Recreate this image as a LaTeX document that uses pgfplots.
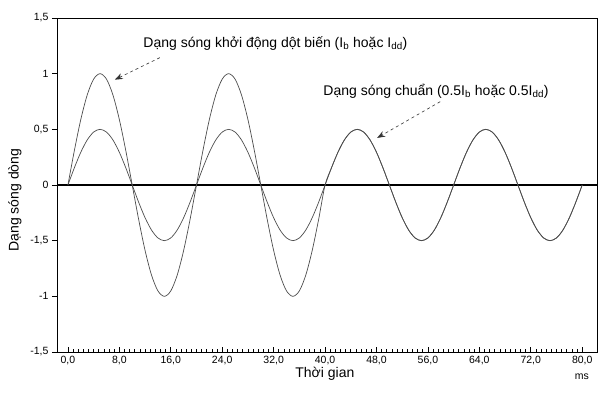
\documentclass[border=0pt]{standalone}
\usepackage{fontspec}
\setmainfont{Liberation Sans}
\usepackage{pgfplots}
\pgfplotsset{compat=1.18}
\usepackage{pgfplotstable}
\usetikzlibrary{arrows.meta}
\pgfplotstableread{
t s k
0 0 0
1 0.1545 0.3090
2 0.2939 0.5878
3 0.4045 0.8090
4 0.4755 0.9511
5 0.5 1
6 0.4755 0.9511
7 0.4045 0.8090
8 0.2939 0.5878
9 0.1545 0.3090
10 0 0
11 -0.1545 -0.3090
12 -0.2939 -0.5878
13 -0.4045 -0.8090
14 -0.4755 -0.9511
15 -0.5 -1
16 -0.4755 -0.9511
17 -0.4045 -0.8090
18 -0.2939 -0.5878
19 -0.1545 -0.3090
20 0 0
21 0.1545 0.3090
22 0.2939 0.5878
23 0.4045 0.8090
24 0.4755 0.9511
25 0.5 1
26 0.4755 0.9511
27 0.4045 0.8090
28 0.2939 0.5878
29 0.1545 0.3090
30 0 0
31 -0.1545 -0.3090
32 -0.2939 -0.5878
33 -0.4045 -0.8090
34 -0.4755 -0.9511
35 -0.5 -1
36 -0.4755 -0.9511
37 -0.4045 -0.8090
38 -0.2939 -0.5878
39 -0.1545 -0.3090
40 0 0
41 0.1545 0.1545
42 0.2939 0.2939
43 0.4045 0.4045
44 0.4755 0.4755
45 0.5 0.5
46 0.4755 0.4755
47 0.4045 0.4045
48 0.2939 0.2939
49 0.1545 0.1545
50 0 0
51 -0.1545 -0.1545
52 -0.2939 -0.2939
53 -0.4045 -0.4045
54 -0.4755 -0.4755
55 -0.5 -0.5
56 -0.4755 -0.4755
57 -0.4045 -0.4045
58 -0.2939 -0.2939
59 -0.1545 -0.1545
60 0 0
61 0.1545 0.1545
62 0.2939 0.2939
63 0.4045 0.4045
64 0.4755 0.4755
65 0.5 0.5
66 0.4755 0.4755
67 0.4045 0.4045
68 0.2939 0.2939
69 0.1545 0.1545
70 0 0
71 -0.1545 -0.1545
72 -0.2939 -0.2939
73 -0.4045 -0.4045
74 -0.4755 -0.4755
75 -0.5 -0.5
76 -0.4755 -0.4755
77 -0.4045 -0.4045
78 -0.2939 -0.2939
79 -0.1545 -0.1545
80 0 0
}\wave
\begin{document}
\begin{tikzpicture}
\path[use as bounding box] (0,0) rectangle (612pt,394pt);
\begin{axis}[
  at={(57pt,42pt)}, anchor=south west,
  scale only axis, width=540pt, height=334pt,
  xmin=-1.7, xmax=82.3, ymin=-1.5, ymax=1.5,
  axis line style={line width=0.8pt},
  xtick={0,8,16,24,32,40,48,56,64,72,80},
  xticklabels={0{,}0,8{,}0,16{,}0,24{,}0,32{,}0,40{,}0,48{,}0,56{,}0,64{,}0,72{,}0,80{,}0},
  minor x tick num=9,
  ytick={-1.5,-1,-0.5,0,0.5,1,1.5},
  yticklabels={-1{,}5,-1,-1{,}5,0,0{,}5,1,1{,}5},
  xtick pos=bottom, ytick pos=left,
  xtick align=inside, ytick align=outside,
  major tick length=5pt, minor tick length=3pt,
  tick style={black, line width=0.6pt},
  /pgf/number format/assume math mode=true,
  tick label style={font=\fontsize{10.5}{12}\selectfont},
  xticklabel style={yshift=-1pt},
  xlabel={Thời gian},
  xlabel style={font=\fontsize{14}{16}\selectfont, at={(axis description cs:0.496,-0.065)}, anchor=center},
  ylabel={Dạng sóng dòng},
  ylabel style={font=\fontsize{14}{16}\selectfont, at={(axis description cs:-0.078,0.455)}, anchor=center, rotate=0},
  clip=false,
]
\addplot[black, line width=1.4pt] coordinates {(-1.7,0) (82.3,0)};
\addplot[black!70, line width=0.7pt, smooth] table[x=t, y=k] {\wave};
\addplot[black!70, line width=0.7pt, smooth] table[x=t, y=s] {\wave};
\node[anchor=west, font=\fontsize{14}{16}\selectfont] at (axis cs:11.2,1.27) {Dạng sóng khởi động dột biến (I\textsubscript{b} hoặc I\textsubscript{dd})};
\node[anchor=west, font=\fontsize{14}{16}\selectfont] at (axis cs:39.2,0.84) {Dạng sóng chuẩn (0.5I\textsubscript{b} hoặc 0.5I\textsubscript{dd})};
\draw[black!80, dashed, line width=0.6pt, -{Stealth[length=8pt,width=6pt]}] (axis cs:14.3,1.144) -- (axis cs:7.3,0.946);
\draw[black!80, dashed, line width=0.6pt, -{Stealth[length=8pt,width=6pt]}] (axis cs:57.9,0.748) -- (axis cs:48.1,0.423);
\node[font=\fontsize{10.5}{12}\selectfont] at (axis description cs:0.972,-0.075) {ms};
\end{axis}
\end{tikzpicture}
\end{document}
